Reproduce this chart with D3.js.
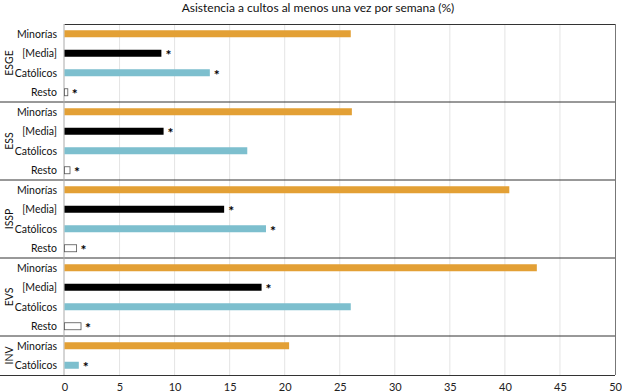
<!DOCTYPE html>
<html><head><meta charset="utf-8">
<script src="https://cdn.jsdelivr.net/npm/d3@7"></script>
<style>body{margin:0;background:#fff}svg{display:block;font-family:Lato,"Open Sans",sans-serif}</style>
</head><body><svg id="c" width="622" height="392"></svg>
<script>
const title = "Asistencia a cultos al menos una vez por semana (%)";
const surveys = ["ESGE", "ESS", "ISSP", "EVS", "INV"];
const categories = ["Minorías", "[Media]", "Católicos", "Resto"];
const esge = [26.0, 8.8, 13.2, 0.3];
const ess = [26.1, 9.0, 16.6, 0.5];
const issp = [40.4, 14.5, 18.3, 1.1];
const evs = [42.9, 17.9, 26.0, 1.5];
const inv = [20.4, null, 1.3, null];
const starred = [[false, true, true, true],[false, true, false, true],[false, true, true, true],[false, true, false, true],[false, false, true, false]];
const tickValues = [0,5,10,15,20,25,30,35,40,45,50];
const colors = {"Minorías":"#E3A035","[Media]":"#000000","Católicos":"#7DBFCE","Resto":"#ffffff"};

const series = [esge, ess, issp, evs, inv];
const rows = [];
surveys.forEach((s, gi) => {
  categories.forEach((c, ci) => {
    const v = series[gi][ci];
    if (v !== null) rows.push({survey: s, cat: c, value: v, star: starred[gi][ci], key: s + "|" + c});
  });
});

const svg = d3.select("#c");
const x = d3.scaleLinear().domain([0, 50]).range([64.5, 615]);
const y = d3.scaleBand().domain(rows.map(r => r.key)).range([24, 375]);
const bh = 7;

svg.append("g").selectAll("line").data(tickValues.slice(1, -1)).join("line")
  .attr("x1", d => x(d)).attr("x2", d => x(d)).attr("y1", 24).attr("y2", 375)
  .attr("stroke", "#e4e4e4").attr("stroke-width", 1);

const groups = surveys.map(s => {
  const rs = rows.filter(r => r.survey === s);
  return {s, y0: y(rs[0].key), y1: y(rs[rs.length-1].key) + y.bandwidth()};
});
svg.append("g").selectAll("line").data(groups.slice(1)).join("line")
  .attr("x1", 0).attr("x2", 615).attr("y1", d => d.y0).attr("y2", d => d.y0)
  .attr("stroke", "#333").attr("stroke-width", 1);

svg.append("line").attr("x1", 64.5).attr("x2", 615).attr("y1", 24.5).attr("y2", 24.5).attr("stroke", "#333");
svg.append("line").attr("x1", 615.5).attr("x2", 615.5).attr("y1", 24).attr("y2", 375).attr("stroke", "#777");
svg.append("line").attr("x1", 64).attr("x2", 64).attr("y1", 24).attr("y2", 375).attr("stroke", "#aaa");

svg.append("g").selectAll("rect").data(rows).join("rect")
  .attr("x", x(0))
  .attr("y", d => y(d.key) + y.bandwidth()/2 - bh/2)
  .attr("width", d => x(d.value) - x(0))
  .attr("height", bh)
  .attr("fill", d => colors[d.cat])
  .attr("stroke", d => d.cat === "Resto" ? "#555" : "none")
  .attr("stroke-width", 0.8);

svg.append("g").selectAll("text").data(rows.filter(r => r.star)).join("text")
  .attr("x", d => x(d.value) + 4)
  .attr("y", d => y(d.key) + y.bandwidth()/2 + 7)
  .attr("font-size", 14).attr("font-weight", "bold").attr("fill", "#000")
  .text("*");

svg.append("g").selectAll("text").data(rows).join("text")
  .attr("x", 57).attr("y", d => y(d.key) + y.bandwidth()/2 + 4)
  .attr("text-anchor", "end").attr("font-size", 10.5).attr("fill", "#111")
  .text(d => d.cat);

svg.append("g").selectAll("text").data(groups).join("text")
  .attr("transform", d => `translate(13,${(d.y0 + d.y1)/2}) rotate(-90)`)
  .attr("text-anchor", "middle").attr("font-size", 10.5).attr("fill", "#111")
  .text(d => d.s);

const ax = svg.append("g").attr("transform", "translate(0,375)")
  .call(d3.axisBottom(x).tickValues(tickValues).tickSize(0).tickPadding(8));
ax.select(".domain").attr("stroke", "#333").attr("d", "M0,0.5H615");
ax.selectAll("text").attr("font-size", 11).attr("fill", "#222").attr("font-family", "Lato, sans-serif");

svg.append("text").attr("x", 318).attr("y", 12).attr("text-anchor", "middle")
  .attr("font-size", 12).attr("fill", "#111").text(title);
</script></body></html>
